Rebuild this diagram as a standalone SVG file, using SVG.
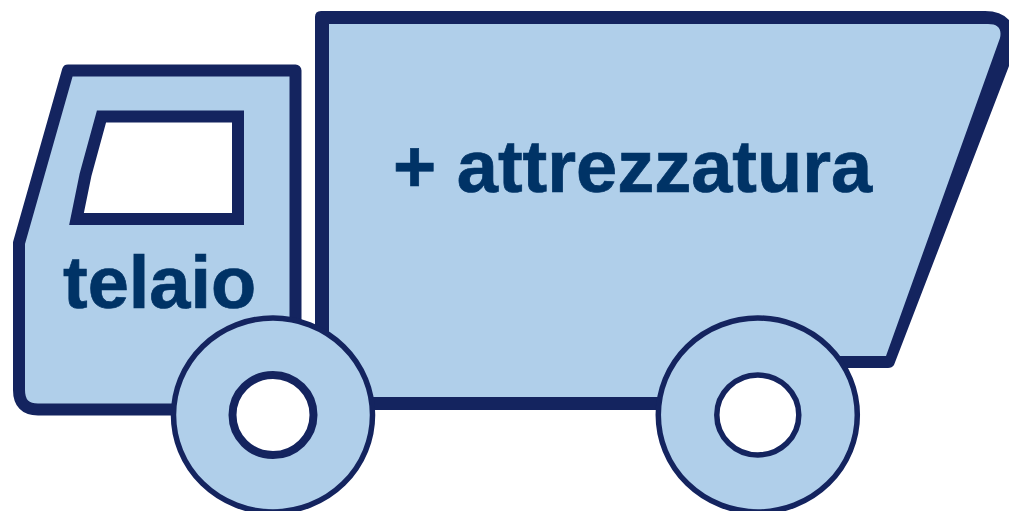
<svg xmlns="http://www.w3.org/2000/svg" width="1009" height="511" viewBox="0 0 1009 511">
<style>
.body{fill:#b0cfea;stroke:#14245f;stroke-linejoin:round}
.dark{fill:#14245f}
.light{fill:#b0cfea}
.win{fill:#fff;stroke:#14245f}
.label{font-family:"Liberation Sans",Arial,sans-serif;font-weight:700;fill:#003366;stroke:#003366;stroke-width:.7}
</style>
<rect width="1009" height="511" fill="#fff"/>
<g id="cargo-box">
<path class="dark" d="M321 11H985Q1004 11 1012 24Q1021 34 1019 40L894 365Q892 368 888 368H820V410H340L315 405V17Q315 11 321 11Z"/>
<path class="light" d="M329 24H988Q1003 24 1000 38L886 356H800V397H329Z"/>
</g>
<g id="cab">
<path class="body" stroke-width="12" d="M19 243L68 70.500H295.500V340H250V409.500H38Q19 409.500 19 390Z"/>
<path class="win" stroke-width="12" d="M101.500 116.500H238V219H76.500L85.500 175Z"/>
</g>
<g id="wheel-front">
<ellipse class="body" cx="273" cy="415" rx="99.500" ry="97" stroke-width="5.500"/>
<ellipse class="win" cx="273" cy="415" rx="40.500" ry="40" stroke-width="8"/>
</g>
<g id="wheel-rear">
<ellipse class="body" cx="757.800" cy="415" rx="99.500" ry="97" stroke-width="5.500"/>
<ellipse class="win" cx="757.800" cy="415" rx="41" ry="40" stroke-width="5.500"/>
</g>
<text class="label" x="63" y="308" font-size="74">telaio</text>
<text class="label" x="393" y="192" font-size="74">+ attrezzatura</text>
</svg>
